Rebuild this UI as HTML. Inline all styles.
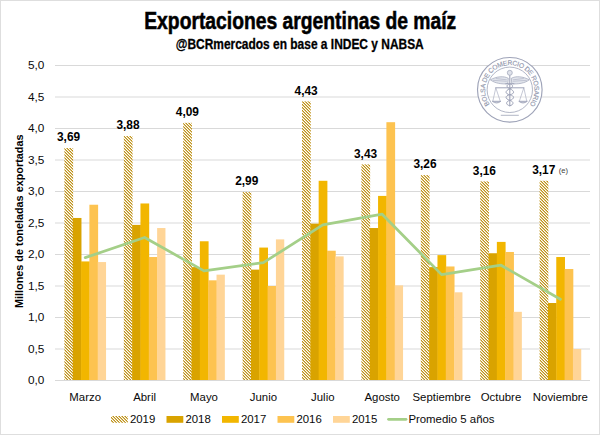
<!DOCTYPE html>
<html><head><meta charset="utf-8"><style>
html,body{margin:0;padding:0;background:#fff;}
svg{display:block;}
text{font-family:"Liberation Sans", sans-serif;}
</style></head><body>
<svg width="600" height="435" viewBox="0 0 600 435">
<defs>
<pattern id="hatch" width="3" height="3" patternUnits="userSpaceOnUse">
<rect x="0" y="0" width="1" height="1" fill="#bc911c"/><rect x="1" y="0" width="1" height="1" fill="#ffffff"/><rect x="2" y="0" width="1" height="1" fill="#dfc57e"/><rect x="0" y="1" width="1" height="1" fill="#dfc57e"/><rect x="1" y="1" width="1" height="1" fill="#bc911c"/><rect x="2" y="1" width="1" height="1" fill="#ffffff"/><rect x="0" y="2" width="1" height="1" fill="#ffffff"/><rect x="1" y="2" width="1" height="1" fill="#dfc57e"/><rect x="2" y="2" width="1" height="1" fill="#bc911c"/>
</pattern>
</defs>
<rect x="0" y="0" width="600" height="435" fill="#fff"/>
<rect x="0.5" y="0.5" width="599" height="434" fill="none" stroke="#dedede" stroke-width="1"/>

<line x1="55.0" y1="349.0" x2="590.0" y2="349.0" stroke="#d9d9d9" stroke-width="1"/>
<line x1="55.0" y1="317.5" x2="590.0" y2="317.5" stroke="#d9d9d9" stroke-width="1"/>
<line x1="55.0" y1="286.0" x2="590.0" y2="286.0" stroke="#d9d9d9" stroke-width="1"/>
<line x1="55.0" y1="254.5" x2="590.0" y2="254.5" stroke="#d9d9d9" stroke-width="1"/>
<line x1="55.0" y1="223.0" x2="590.0" y2="223.0" stroke="#d9d9d9" stroke-width="1"/>
<line x1="55.0" y1="191.5" x2="590.0" y2="191.5" stroke="#d9d9d9" stroke-width="1"/>
<line x1="55.0" y1="160.0" x2="590.0" y2="160.0" stroke="#d9d9d9" stroke-width="1"/>
<line x1="55.0" y1="128.5" x2="590.0" y2="128.5" stroke="#d9d9d9" stroke-width="1"/>
<line x1="55.0" y1="97.0" x2="590.0" y2="97.0" stroke="#d9d9d9" stroke-width="1"/>
<line x1="55.0" y1="65.5" x2="590.0" y2="65.5" stroke="#d9d9d9" stroke-width="1"/>
<rect x="64.40" y="148.03" width="8.73" height="232.47" fill="url(#hatch)"/>
<rect x="72.73" y="217.96" width="8.73" height="162.54" fill="#d9a300"/>
<rect x="81.06" y="261.43" width="8.73" height="119.07" fill="#f2b600"/>
<rect x="89.39" y="204.73" width="8.73" height="175.77" fill="#fdc350"/>
<rect x="97.72" y="262.06" width="8.33" height="118.44" fill="#ffd597"/>
<rect x="123.80" y="136.06" width="8.73" height="244.44" fill="url(#hatch)"/>
<rect x="132.13" y="224.89" width="8.73" height="155.61" fill="#d9a300"/>
<rect x="140.46" y="203.47" width="8.73" height="177.03" fill="#f2b600"/>
<rect x="148.79" y="257.02" width="8.73" height="123.48" fill="#fdc350"/>
<rect x="157.12" y="228.04" width="8.33" height="152.46" fill="#ffd597"/>
<rect x="183.20" y="122.83" width="8.73" height="257.67" fill="url(#hatch)"/>
<rect x="191.53" y="267.10" width="8.73" height="113.40" fill="#d9a300"/>
<rect x="199.86" y="241.27" width="8.73" height="139.23" fill="#f2b600"/>
<rect x="208.19" y="280.33" width="8.73" height="100.17" fill="#fdc350"/>
<rect x="216.52" y="274.66" width="8.33" height="105.84" fill="#ffd597"/>
<rect x="242.60" y="192.13" width="8.73" height="188.37" fill="url(#hatch)"/>
<rect x="250.93" y="269.62" width="8.73" height="110.88" fill="#d9a300"/>
<rect x="259.26" y="247.57" width="8.73" height="132.93" fill="#f2b600"/>
<rect x="267.59" y="286.00" width="8.73" height="94.50" fill="#fdc350"/>
<rect x="275.92" y="239.38" width="8.33" height="141.12" fill="#ffd597"/>
<rect x="302.00" y="101.41" width="8.73" height="279.09" fill="url(#hatch)"/>
<rect x="310.33" y="223.63" width="8.73" height="156.87" fill="#d9a300"/>
<rect x="318.66" y="180.79" width="8.73" height="199.71" fill="#f2b600"/>
<rect x="326.99" y="250.72" width="8.73" height="129.78" fill="#fdc350"/>
<rect x="335.32" y="256.39" width="8.33" height="124.11" fill="#ffd597"/>
<rect x="361.40" y="164.41" width="8.73" height="216.09" fill="url(#hatch)"/>
<rect x="369.73" y="228.04" width="8.73" height="152.46" fill="#d9a300"/>
<rect x="378.06" y="195.91" width="8.73" height="184.59" fill="#f2b600"/>
<rect x="386.39" y="122.20" width="8.73" height="258.30" fill="#fdc350"/>
<rect x="394.72" y="285.37" width="8.33" height="95.13" fill="#ffd597"/>
<rect x="420.80" y="175.12" width="8.73" height="205.38" fill="url(#hatch)"/>
<rect x="429.13" y="267.10" width="8.73" height="113.40" fill="#d9a300"/>
<rect x="437.46" y="255.13" width="8.73" height="125.37" fill="#f2b600"/>
<rect x="445.79" y="266.47" width="8.73" height="114.03" fill="#fdc350"/>
<rect x="454.12" y="292.30" width="8.33" height="88.20" fill="#ffd597"/>
<rect x="480.20" y="181.42" width="8.73" height="199.08" fill="url(#hatch)"/>
<rect x="488.53" y="253.24" width="8.73" height="127.26" fill="#d9a300"/>
<rect x="496.86" y="241.90" width="8.73" height="138.60" fill="#f2b600"/>
<rect x="505.19" y="251.98" width="8.73" height="128.52" fill="#fdc350"/>
<rect x="513.52" y="311.83" width="8.33" height="68.67" fill="#ffd597"/>
<rect x="539.60" y="180.79" width="8.73" height="199.71" fill="url(#hatch)"/>
<rect x="547.93" y="303.01" width="8.73" height="77.49" fill="#d9a300"/>
<rect x="556.26" y="257.02" width="8.73" height="123.48" fill="#f2b600"/>
<rect x="564.59" y="268.99" width="8.73" height="111.51" fill="#fdc350"/>
<rect x="572.92" y="349.00" width="8.33" height="31.50" fill="#ffd597"/>
<line x1="55.0" y1="380.5" x2="590.0" y2="380.5" stroke="#d9d9d9" stroke-width="1"/>
<polyline points="85.20,257.65 144.60,237.49 204.00,270.88 263.40,262.69 322.80,224.89 382.20,214.18 441.60,274.66 501.00,265.21 560.40,299.23" fill="none" stroke="#a4cf88" stroke-width="2.75" stroke-linejoin="round" stroke-linecap="round"/>
<text x="68.57" y="141.23" font-size="11.9" font-weight="bold" fill="#000" text-anchor="middle">3,69</text>
<text x="127.97" y="129.26" font-size="11.9" font-weight="bold" fill="#000" text-anchor="middle">3,88</text>
<text x="187.36" y="116.03" font-size="11.9" font-weight="bold" fill="#000" text-anchor="middle">4,09</text>
<text x="246.76" y="185.33" font-size="11.9" font-weight="bold" fill="#000" text-anchor="middle">2,99</text>
<text x="306.17" y="94.61" font-size="11.9" font-weight="bold" fill="#000" text-anchor="middle">4,43</text>
<text x="365.56" y="157.61" font-size="11.9" font-weight="bold" fill="#000" text-anchor="middle">3,43</text>
<text x="424.96" y="168.32" font-size="11.9" font-weight="bold" fill="#000" text-anchor="middle">3,26</text>
<text x="484.37" y="174.62" font-size="11.9" font-weight="bold" fill="#000" text-anchor="middle">3,16</text>
<text x="543.76" y="173.99" font-size="11.9" font-weight="bold" fill="#000" text-anchor="middle">3,17</text>
<text x="558.8" y="173.4" font-size="7.6" fill="#404040">(e)</text>
<g transform="translate(509.8,89.8)" fill="none" stroke="#9ea3b8">
<path d="M-32.3,0 A32.3,32.3 0 1 0 32.3,0 A32.3,32.3 0 1 0 -32.3,0 Z M-22.7,0 A22.7,22.7 0 1 0 22.7,0 A22.7,22.7 0 1 0 -22.7,0 Z" fill="#fff" fill-opacity="0.85" fill-rule="evenodd" stroke="none"/>
<circle r="22.7" fill="#fff" fill-opacity="0.35" stroke="none"/>
<circle r="32.3" stroke-width="1.15"/>
<circle r="22.7" stroke-width="0.8"/>
<path id="arc" d="M -19.98,14.52 A 24.7,24.7 0 1 1 19.98,14.52" stroke="none"/>
<text font-size="6.7" fill="#8f95ab" stroke="#8f95ab" stroke-width="0.12" font-family="Liberation Sans, sans-serif"><textPath href="#arc" startOffset="0" textLength="108.6" lengthAdjust="spacing">BOLSA DE COMERCIO DE ROSARIO</textPath></text>
<circle cx="0" cy="-17" r="2.5" stroke-width="0.7" fill="#dfe2ea"/>
<path d="M0,-14.5 V16.5" stroke-width="1.1"/>
<path d="M-1.5,-11.5 C-6,-14 -13,-13.5 -19.5,-10 C-15,-6.5 -8,-5.5 -2,-6 Z" stroke-width="0.7" fill="#e2e5ec"/>
<path d="M1.5,-11.5 C6,-14 13,-13.5 19.5,-10 C15,-6.5 8,-5.5 2,-6 Z" stroke-width="0.7" fill="#e2e5ec"/>
<path d="M-17,-9.5 L-3,-8.5 M17,-9.5 L3,-8.5 M-14,-11.3 L-3,-10 M14,-11.3 L3,-10" stroke-width="0.5"/>
<path d="M-14.5,-2 H14.5" stroke-width="1"/>
<path d="M-14,-2 L-17,11.5 M-14,-2 L-9.5,11.5 M14,-2 L17,11.5 M14,-2 L9.5,11.5" stroke-width="0.6"/>
<path d="M-17.5,11.5 Q-13.2,14.8 -9,11.5 Z M9,11.5 Q13.2,14.8 17.5,11.5 Z" stroke-width="0.9" fill="#d5d9e3"/>
<path d="M-4.5,-6 C3,-7 5,-3 0,-1 C-5,1 -5,4 0,5 C5,6 5,9 0,10.5 C-4.5,12 -4,15 0,16 M4.5,-6 C-3,-7 -5,-3 0,-1 C5,1 5,4 0,5 C-5,6 -5,9 0,10.5 C4.5,12 4,15 0,16" stroke-width="1"/>
<path d="M-9,25.5 H9" stroke-width="0.8"/>
</g>
<text x="44.3" y="384.40" font-size="11.8" fill="#0a0a0a" text-anchor="end">0,0</text>
<text x="44.3" y="352.90" font-size="11.8" fill="#0a0a0a" text-anchor="end">0,5</text>
<text x="44.3" y="321.40" font-size="11.8" fill="#0a0a0a" text-anchor="end">1,0</text>
<text x="44.3" y="289.90" font-size="11.8" fill="#0a0a0a" text-anchor="end">1,5</text>
<text x="44.3" y="258.40" font-size="11.8" fill="#0a0a0a" text-anchor="end">2,0</text>
<text x="44.3" y="226.90" font-size="11.8" fill="#0a0a0a" text-anchor="end">2,5</text>
<text x="44.3" y="195.40" font-size="11.8" fill="#0a0a0a" text-anchor="end">3,0</text>
<text x="44.3" y="163.90" font-size="11.8" fill="#0a0a0a" text-anchor="end">3,5</text>
<text x="44.3" y="132.40" font-size="11.8" fill="#0a0a0a" text-anchor="end">4,0</text>
<text x="44.3" y="100.90" font-size="11.8" fill="#0a0a0a" text-anchor="end">4,5</text>
<text x="44.3" y="69.40" font-size="11.8" fill="#0a0a0a" text-anchor="end">5,0</text>
<text x="85.20" y="400.9" font-size="11.4" fill="#0a0a0a" text-anchor="middle">Marzo</text>
<text x="144.60" y="400.9" font-size="11.4" fill="#0a0a0a" text-anchor="middle">Abril</text>
<text x="204.00" y="400.9" font-size="11.4" fill="#0a0a0a" text-anchor="middle">Mayo</text>
<text x="263.40" y="400.9" font-size="11.4" fill="#0a0a0a" text-anchor="middle">Junio</text>
<text x="322.80" y="400.9" font-size="11.4" fill="#0a0a0a" text-anchor="middle">Julio</text>
<text x="382.20" y="400.9" font-size="11.4" fill="#0a0a0a" text-anchor="middle">Agosto</text>
<text x="441.60" y="400.9" font-size="11.4" fill="#0a0a0a" text-anchor="middle">Septiembre</text>
<text x="501.00" y="400.9" font-size="11.4" fill="#0a0a0a" text-anchor="middle">Octubre</text>
<text x="560.40" y="400.9" font-size="11.4" fill="#0a0a0a" text-anchor="middle">Noviembre</text>
<text transform="translate(22.9,221.25) rotate(-90)" x="0" y="0" font-size="10.85" font-weight="bold" fill="#000" text-anchor="middle">Millones de toneladas exportadas</text>
<text x="300.25" y="28.8" font-size="23.8" font-weight="bold" fill="#000" stroke="#000" stroke-width="0.55" text-anchor="middle" textLength="312" lengthAdjust="spacingAndGlyphs">Exportaciones argentinas de maíz</text>
<text x="299.75" y="48.7" font-size="14.6" font-weight="bold" fill="#000" stroke="#000" stroke-width="0.3" text-anchor="middle" textLength="248" lengthAdjust="spacingAndGlyphs">@BCRmercados en base a INDEC y NABSA</text>
<rect x="111" y="416" width="16.8" height="6.8" fill="url(#hatch)"/>
<text x="129.9" y="423" font-size="11.4" fill="#0a0a0a">2019</text>
<rect x="166.5" y="416" width="16.8" height="6.8" fill="#d9a300"/>
<text x="185.4" y="423" font-size="11.4" fill="#0a0a0a">2018</text>
<rect x="222" y="416" width="16.8" height="6.8" fill="#f2b600"/>
<text x="240.9" y="423" font-size="11.4" fill="#0a0a0a">2017</text>
<rect x="277.5" y="416" width="16.8" height="6.8" fill="#fdc350"/>
<text x="296.4" y="423" font-size="11.4" fill="#0a0a0a">2016</text>
<rect x="333" y="416" width="16.8" height="6.8" fill="#ffd597"/>
<text x="351.9" y="423" font-size="11.4" fill="#0a0a0a">2015</text>
<line x1="388.5" y1="419.3" x2="406" y2="419.3" stroke="#a4cf88" stroke-width="2.75" stroke-linecap="round"/>
<text x="408.4" y="423" font-size="11.4" fill="#0a0a0a">Promedio 5 años</text>
</svg></body></html>
